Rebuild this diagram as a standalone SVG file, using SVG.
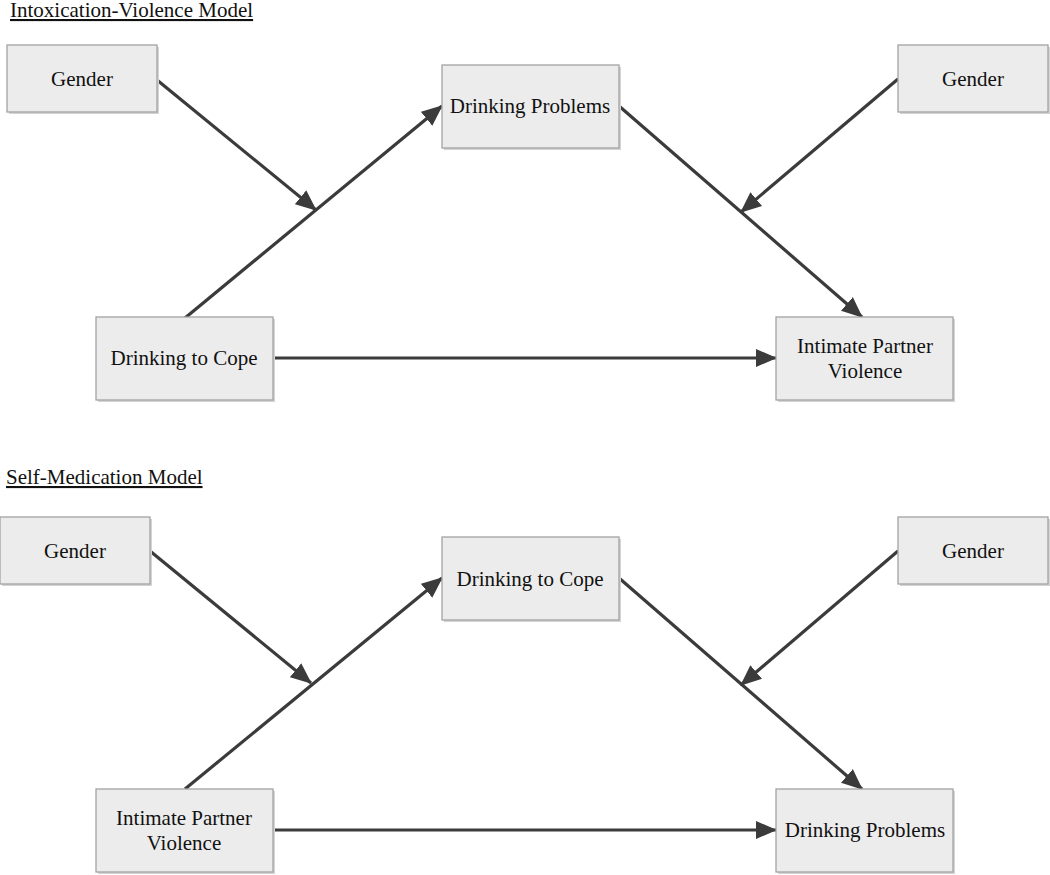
<svg xmlns="http://www.w3.org/2000/svg" width="1050" height="875" viewBox="0 0 1050 875">
<style>
.box{fill:#ececec;stroke:#a3a3a3;stroke-width:1.3}
.sh{fill:#d4d4d4}
.t{font-family:"Liberation Serif","Times New Roman",serif;font-size:21px;fill:#111;text-anchor:middle}
.title{font-family:"Liberation Serif","Times New Roman",serif;font-size:21px;fill:#111;text-decoration:underline}
.c{stroke:#3b3b3b;stroke-width:3.2;fill:none;marker-end:url(#ah)}
</style>
<defs>
<marker id="ah" markerUnits="userSpaceOnUse" markerWidth="24" markerHeight="20" refX="20" refY="9" orient="auto" viewBox="0 0 24 18">
<path d="M0,0 L21,9 L0,18 Z" fill="#3b3b3b"/>
</marker>
</defs>
<rect width="1050" height="875" fill="#fff"/>
<text class="title" x="10" y="17">Intoxication-Violence Model</text>
<text class="title" x="6" y="484">Self-Medication Model</text>

<g id="connectors">
<line class="c" x1="157" y1="80" x2="316" y2="210"/>
<line class="c" x1="185" y1="318" x2="442" y2="106"/>
<line class="c" x1="619" y1="106" x2="862" y2="317"/>
<line class="c" x1="898" y1="79" x2="741" y2="212"/>
<line class="c" x1="273" y1="358" x2="776" y2="358"/>

<line class="c" x1="150" y1="551" x2="311" y2="683"/>
<line class="c" x1="185" y1="789" x2="442" y2="578"/>
<line class="c" x1="619" y1="578" x2="862" y2="789"/>
<line class="c" x1="898" y1="551" x2="741" y2="685"/>
<line class="c" x1="273" y1="830" x2="776" y2="830"/>
</g>

<g id="n1"><rect class="sh" x="9" y="47" width="150" height="67"/><rect class="box" x="7" y="45" width="150" height="67"/><text class="t" x="82" y="86">Gender</text></g>
<g id="n2"><rect class="sh" x="444" y="67" width="177" height="83"/><rect class="box" x="442" y="65" width="177" height="83"/><text class="t" x="530" y="113">Drinking Problems</text></g>
<g id="n3"><rect class="sh" x="900" y="47" width="150" height="67"/><rect class="box" x="898" y="45" width="150" height="67"/><text class="t" x="973" y="86">Gender</text></g>
<g id="n4"><rect class="sh" x="98" y="319" width="177" height="83"/><rect class="box" x="96" y="317" width="177" height="83"/><text class="t" x="184" y="365">Drinking to Cope</text></g>
<g id="n5"><rect class="sh" x="778" y="319" width="177" height="83"/><rect class="box" x="776" y="317" width="177" height="83"/><text class="t" x="865" y="353">Intimate Partner</text><text class="t" x="865" y="378">Violence</text></g>

<g id="n6"><rect class="sh" x="2" y="519" width="150" height="67"/><rect class="box" x="0" y="517" width="150" height="67"/><text class="t" x="75" y="558">Gender</text></g>
<g id="n7"><rect class="sh" x="444" y="539" width="177" height="83"/><rect class="box" x="442" y="537" width="177" height="83"/><text class="t" x="530" y="586">Drinking to Cope</text></g>
<g id="n8"><rect class="sh" x="900" y="519" width="150" height="67"/><rect class="box" x="898" y="517" width="150" height="67"/><text class="t" x="973" y="558">Gender</text></g>
<g id="n9"><rect class="sh" x="98" y="791" width="177" height="83"/><rect class="box" x="96" y="789" width="177" height="83"/><text class="t" x="184" y="825">Intimate Partner</text><text class="t" x="184" y="850">Violence</text></g>
<g id="n10"><rect class="sh" x="778" y="791" width="177" height="83"/><rect class="box" x="776" y="789" width="177" height="83"/><text class="t" x="865" y="837">Drinking Problems</text></g>
</svg>
